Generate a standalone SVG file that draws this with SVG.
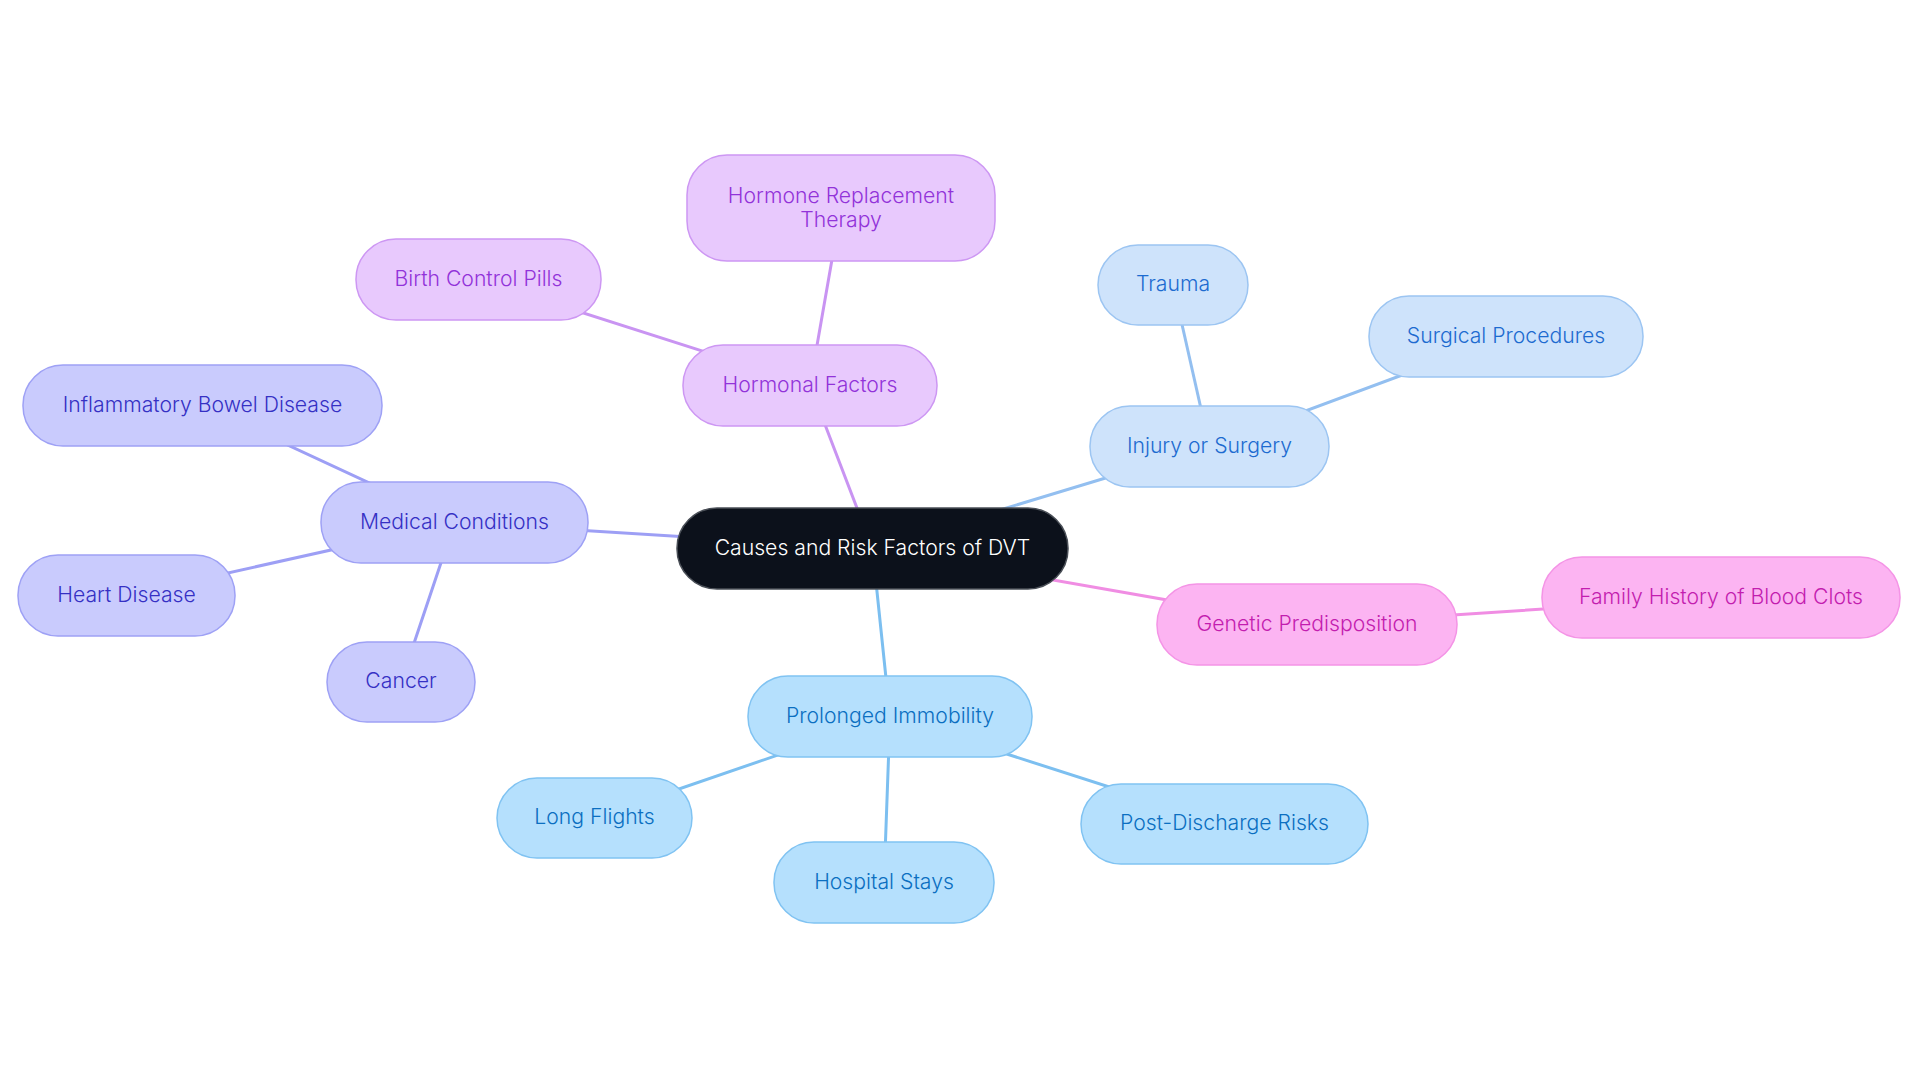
<svg xmlns="http://www.w3.org/2000/svg" width="1920" height="1083" viewBox="0 0 1920 1083">
<style>
text{font-family:Inter,"Noto Sans",sans-serif;font-size:21.2px;font-weight:350;text-anchor:middle}
.n rect{stroke-width:1.5}
.root rect{fill:#0c111b;stroke:#4a4f57;stroke-width:1.5}
.root text{fill:#ffffff}
.pur rect{fill:#e8c9fd;stroke:#cd97f3}
.pur text{fill:#9233d9}
.ind rect{fill:#c9cbfd;stroke:#9ea1f5}
.ind text{fill:#3530c4}
.lb rect{fill:#cee3fb;stroke:#9cc5f2}
.lb text{fill:#1d6bd0}
.pk rect{fill:#fcb4f2;stroke:#f494e6}
.pk text{fill:#c31daf}
.sk rect{fill:#b5e0fd;stroke:#80c3f2}
.sk text{fill:#0b6fc1}
.e line{stroke-width:3;stroke-linecap:round}
.ep{stroke:#c994f2}
.ei{stroke:#9d9ff5}
.el{stroke:#93bff0}
.ek{stroke:#f08de3}
.es{stroke:#7cbff0}
</style>
<rect width="1920" height="1083" fill="#ffffff"/>
<g id="connectors" class="e">
<line class="ep" x1="872.5" y1="548.5" x2="810" y2="385.5"/>
<line class="ep" x1="810" y1="385.5" x2="841" y2="208"/>
<line class="ep" x1="810" y1="385.5" x2="478.5" y2="279.5"/>
<line class="ei" x1="872.5" y1="548.5" x2="454.5" y2="522.5"/>
<line class="ei" x1="454.5" y1="522.5" x2="202.5" y2="405.5"/>
<line class="ei" x1="454.5" y1="522.5" x2="126.5" y2="595.5"/>
<line class="ei" x1="454.5" y1="522.5" x2="401" y2="682"/>
<line class="el" x1="872.5" y1="548.5" x2="1209.5" y2="446.5"/>
<line class="el" x1="1209.5" y1="446.5" x2="1173" y2="284.5"/>
<line class="el" x1="1209.5" y1="446.5" x2="1506" y2="336.5"/>
<line class="ek" x1="872.5" y1="548.5" x2="1307" y2="624.5"/>
<line class="ek" x1="1307" y1="624.5" x2="1721" y2="597.5"/>
<line class="es" x1="872.5" y1="548.5" x2="890" y2="716.5"/>
<line class="es" x1="890" y1="716.5" x2="594.5" y2="818"/>
<line class="es" x1="890" y1="716.5" x2="884" y2="882.5"/>
<line class="es" x1="890" y1="716.5" x2="1224.5" y2="824"/>
</g>
<g id="root" class="n root"><rect x="677" y="508" width="391" height="81" rx="40"/><text x="872.5" y="555">Causes and Risk Factors of DVT</text></g>
<g id="hormonal" class="n pur"><rect x="683" y="345" width="254" height="81" rx="40"/><text x="810" y="392">Hormonal Factors</text></g>
<g id="hrt" class="n pur"><rect x="687" y="155" width="308" height="106" rx="40"/><text x="841" y="203">Hormone Replacement</text><text x="841" y="227">Therapy</text></g>
<g id="bcp" class="n pur"><rect x="356" y="239" width="245" height="81" rx="40"/><text x="478.5" y="286">Birth Control Pills</text></g>
<g id="medical" class="n ind"><rect x="321" y="482" width="267" height="81" rx="40"/><text x="454.5" y="529">Medical Conditions</text></g>
<g id="ibd" class="n ind"><rect x="23" y="365" width="359" height="81" rx="40"/><text x="202.5" y="412">Inflammatory Bowel Disease</text></g>
<g id="heart" class="n ind"><rect x="18" y="555" width="217" height="81" rx="40"/><text x="126.5" y="602">Heart Disease</text></g>
<g id="cancer" class="n ind"><rect x="327" y="642" width="148" height="80" rx="40"/><text x="401" y="688">Cancer</text></g>
<g id="injury" class="n lb"><rect x="1090" y="406" width="239" height="81" rx="40"/><text x="1209.5" y="453">Injury or Surgery</text></g>
<g id="trauma" class="n lb"><rect x="1098" y="245" width="150" height="80" rx="40"/><text x="1173" y="291">Trauma</text></g>
<g id="surgical" class="n lb"><rect x="1369" y="296" width="274" height="81" rx="40"/><text x="1506" y="343">Surgical Procedures</text></g>
<g id="genetic" class="n pk"><rect x="1157" y="584" width="300" height="81" rx="40"/><text x="1307" y="631">Genetic Predisposition</text></g>
<g id="family" class="n pk"><rect x="1542" y="557" width="358" height="81" rx="40"/><text x="1721" y="604">Family History of Blood Clots</text></g>
<g id="prolonged" class="n sk"><rect x="748" y="676" width="284" height="81" rx="40"/><text x="890" y="723">Prolonged Immobility</text></g>
<g id="flights" class="n sk"><rect x="497" y="778" width="195" height="80" rx="40"/><text x="594.5" y="824">Long Flights</text></g>
<g id="hospital" class="n sk"><rect x="774" y="842" width="220" height="81" rx="40"/><text x="884" y="889">Hospital Stays</text></g>
<g id="postdischarge" class="n sk"><rect x="1081" y="784" width="287" height="80" rx="40"/><text x="1224.5" y="830">Post-Discharge Risks</text></g>
</svg>
